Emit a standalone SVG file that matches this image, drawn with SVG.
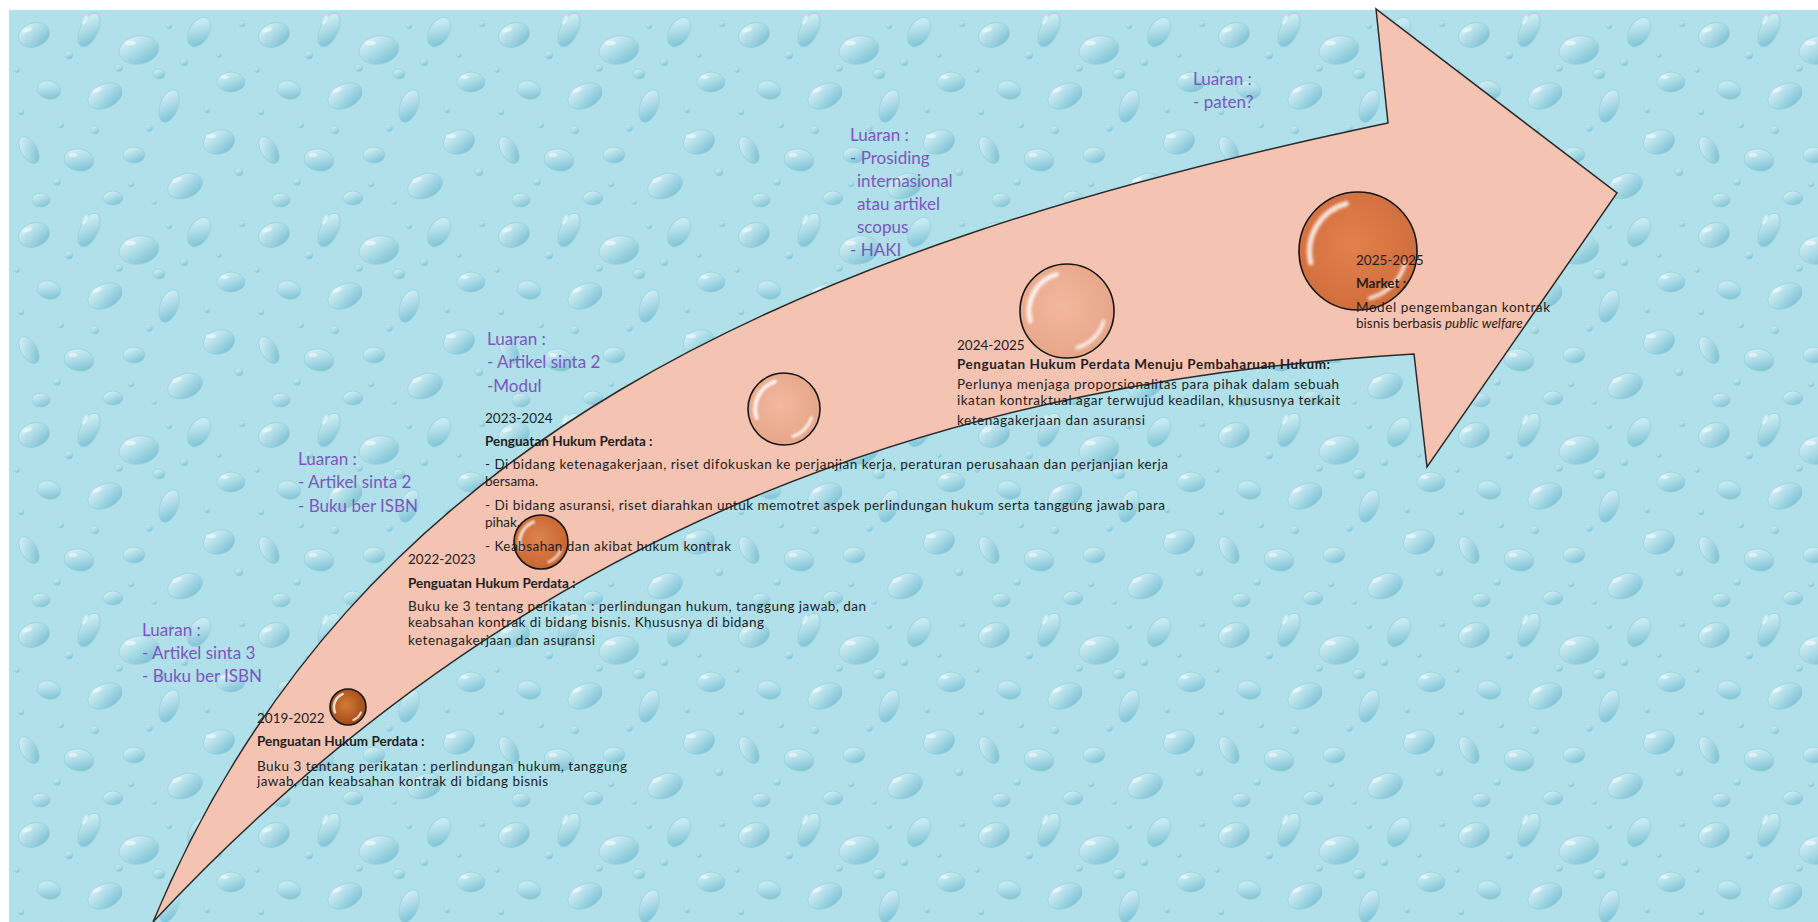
<svg xmlns="http://www.w3.org/2000/svg" width="1818" height="922" viewBox="0 0 1818 922">
<style>
.lu{font-family:"Lato","Open Sans",sans-serif;font-size:17px;fill:#7d55c0}
.t{font-family:"Lato","Open Sans",sans-serif;font-size:13.5px;fill:#1e1e1e}
.b{font-weight:bold}
.ring{stroke:#151515;stroke-width:1.6;vector-effect:non-scaling-stroke}
.hl{fill:none;stroke:#ffffff;stroke-linecap:round;filter:url(#soft)}
.drop{fill:url(#dg);stroke:#94cedc;stroke-width:0.7}
.sd{fill:url(#dg);stroke:#94cedc;stroke-width:0.5}
.shine{fill:#ffffff;opacity:0.5}
</style>
<defs>
<filter id="soft" x="-0.5" y="-0.5" width="2" height="2"><feGaussianBlur stdDeviation="0.03"/></filter>
<linearGradient id="dg" x1="0.2" y1="0" x2="0.8" y2="1">
<stop offset="0" stop-color="#d9f2f7"/>
<stop offset="0.5" stop-color="#aadbe6"/>
<stop offset="1" stop-color="#78bfd3"/>
</linearGradient>
<pattern id="drops" x="9" y="10" width="240" height="200" patternUnits="userSpaceOnUse">
<rect width="240" height="200" fill="#b0e1ea"/>
<ellipse class="drop" cx="25" cy="25" rx="16" ry="12" transform="rotate(-20 25 25)"/>
<ellipse class="drop" cx="80" cy="20" rx="9" ry="18" transform="rotate(25 80 20)"/>
<ellipse class="drop" cx="130" cy="40" rx="20" ry="14" transform="rotate(-10 130 40)"/>
<ellipse class="drop" cx="190" cy="22" rx="10" ry="16" transform="rotate(30 190 22)"/>
<ellipse class="drop" cx="222" cy="72" rx="14" ry="10"/>
<ellipse class="drop" cx="40" cy="80" rx="12" ry="9" transform="rotate(15 40 80)"/>
<ellipse class="drop" cx="96" cy="86" rx="18" ry="12" transform="rotate(-25 96 86)"/>
<ellipse class="drop" cx="160" cy="96" rx="9" ry="17" transform="rotate(20 160 96)"/>
<ellipse class="drop" cx="210" cy="132" rx="16" ry="12" transform="rotate(-15 210 132)"/>
<ellipse class="drop" cx="20" cy="140" rx="8" ry="15" transform="rotate(-30 20 140)"/>
<ellipse class="drop" cx="70" cy="150" rx="15" ry="11" transform="rotate(10 70 150)"/>
<ellipse class="drop" cx="125" cy="145" rx="11" ry="8"/>
<ellipse class="drop" cx="176" cy="176" rx="18" ry="12" transform="rotate(-20 176 176)"/>
<ellipse class="drop" cx="104" cy="188" rx="10" ry="7"/>
<ellipse class="drop" cx="32" cy="190" rx="9" ry="7"/>
<ellipse class="drop" cx="150" cy="64" rx="6" ry="5"/>
<ellipse class="shine" cx="18" cy="20" rx="5" ry="2" transform="rotate(-20 18 20)"/>
<ellipse class="shine" cx="76" cy="10" rx="2" ry="5" transform="rotate(25 76 10)"/>
<ellipse class="shine" cx="121" cy="33" rx="6" ry="2.5"/>
<ellipse class="shine" cx="88" cy="80" rx="5" ry="2" transform="rotate(-25 88 80)"/>
<ellipse class="shine" cx="202" cy="126" rx="5" ry="2"/>
<ellipse class="shine" cx="168" cy="170" rx="5" ry="2" transform="rotate(-20 168 170)"/>
<ellipse class="shine" cx="64" cy="145" rx="4" ry="2"/>
<ellipse class="shine" cx="216" cy="67" rx="4" ry="1.8"/>
<circle class="sd" cx="60" cy="45" r="4"/>
<circle class="sd" cx="110" cy="58" r="3.5"/>
<circle class="sd" cx="175" cy="52" r="4"/>
<circle class="sd" cx="12" cy="102" r="3"/>
<circle class="sd" cx="140" cy="118" r="3.5"/>
<circle class="sd" cx="230" cy="162" r="4"/>
<circle class="sd" cx="52" cy="115" r="3"/>
<circle class="sd" cx="198" cy="100" r="3"/>
<circle class="sd" cx="86" cy="120" r="4"/>
<circle class="sd" cx="233" cy="14" r="3"/>
<circle class="sd" cx="160" cy="16" r="3"/>
<circle class="sd" cx="122" cy="174" r="3"/>
<circle class="sd" cx="48" cy="172" r="3.5"/>
<circle class="sd" cx="210" cy="45" r="2.5"/>
<circle class="sd" cx="8" cy="60" r="2.5"/>
<circle class="sd" cx="145" cy="192" r="2.5"/>
</pattern>
<radialGradient id="g1" cx="0.45" cy="0.45" r="0.6"><stop offset="0" stop-color="#d47b38"/><stop offset="1" stop-color="#9c4714"/></radialGradient>
<radialGradient id="g2" cx="0.45" cy="0.45" r="0.6"><stop offset="0" stop-color="#e0844f"/><stop offset="1" stop-color="#c5622c"/></radialGradient>
<radialGradient id="g3" cx="0.45" cy="0.45" r="0.6"><stop offset="0" stop-color="#f2b9a0"/><stop offset="1" stop-color="#e6a487"/></radialGradient>
<radialGradient id="g5" cx="0.45" cy="0.45" r="0.6"><stop offset="0" stop-color="#e2804e"/><stop offset="1" stop-color="#cf6c3b"/></radialGradient>
</defs>

<rect x="0" y="0" width="1818" height="922" fill="#ffffff"/>
<rect x="9" y="10" width="1809" height="912" fill="url(#drops)"/>

<g id="connectors">
<path id="timeline-arrow" d="M153,922 C353,442 788,249 1388,123 L1376,9 L1617,193 L1427,467 L1414,354 C964,381 533,515 153,922 Z" fill="#f5c3b2" stroke="#2a2a2a" stroke-width="1.5" stroke-linejoin="miter"/>
</g>

<g id="stage-2019-2022">
<g transform="translate(348,707) scale(18)">
<circle r="1" fill="url(#g1)" class="ring"/>
<path class="hl" d="M-0.72,0.3 A0.78 0.78 0 0 1 -0.3,-0.72" stroke-width="0.14" opacity="0.8"/>
<path class="hl" d="M0.72,0.3 A0.78 0.78 0 0 1 0.3,0.72" stroke-width="0.12" opacity="0.75"/>
</g>
<text class="t" x="257" y="723">2019-2022</text>
<text class="t b" x="257" y="746">Penguatan Hukum Perdata :</text>
<text class="t" x="257" y="771" textLength="370">Buku 3 tentang perikatan :  perlindungan hukum, tanggung</text>
<text class="t" x="257" y="786" textLength="291">jawab, dan keabsahan kontrak di bidang bisnis</text>
</g>

<g id="stage-2022-2023">
<g transform="translate(541,542) scale(27)">
<circle r="1" fill="url(#g2)" class="ring"/>
<path class="hl" d="M-0.74,0.28 A0.8 0.8 0 0 1 -0.28,-0.74" stroke-width="0.12" opacity="0.8"/>
<path class="hl" d="M0.74,0.28 A0.8 0.8 0 0 1 0.28,0.74" stroke-width="0.1" opacity="0.75"/>
</g>
<text class="t" x="408" y="564">2022-2023</text>
<text class="t b" x="408" y="588">Penguatan Hukum Perdata :</text>
<text class="t" x="408" y="611" textLength="458">Buku ke 3 tentang perikatan : perlindungan hukum, tanggung jawab, dan</text>
<text class="t" x="408" y="627" textLength="356">keabsahan kontrak di bidang bisnis. Khususnya di bidang</text>
<text class="t" x="408" y="645" textLength="187">ketenagakerjaan dan asuransi</text>
</g>

<g id="stage-2023-2024">
<g transform="translate(784,409) scale(36)">
<circle r="1" fill="url(#g3)" class="ring"/>
<path class="hl" d="M-0.76,0.25 A0.8 0.8 0 0 1 -0.25,-0.76" stroke-width="0.11" opacity="0.85"/>
<path class="hl" d="M0.76,0.25 A0.8 0.8 0 0 1 0.25,0.76" stroke-width="0.09" opacity="0.8"/>
</g>
<text class="t" x="485" y="423">2023-2024</text>
<text class="t b" x="485" y="446">Penguatan Hukum Perdata :</text>
<text class="t" x="485" y="469" textLength="683">- Di bidang ketenagakerjaan, riset difokuskan ke perjanjian kerja, peraturan perusahaan dan perjanjian kerja</text>
<text class="t" x="485" y="486">bersama.</text>
<text class="t" x="485" y="510" textLength="680">- Di bidang asuransi, riset diarahkan untuk memotret aspek perlindungan hukum serta tanggung jawab para</text>
<text class="t" x="485" y="527">pihak.</text>
<text class="t" x="485" y="551" textLength="246">- Keabsahan dan akibat hukum kontrak</text>
</g>

<g id="stage-2024-2025">
<g transform="translate(1067,311) scale(47)">
<circle r="1" fill="url(#g3)" class="ring"/>
<path class="hl" d="M-0.78,0.22 A0.82 0.82 0 0 1 -0.22,-0.78" stroke-width="0.1" opacity="0.85"/>
<path class="hl" d="M0.78,0.22 A0.82 0.82 0 0 1 0.22,0.78" stroke-width="0.08" opacity="0.8"/>
</g>
<text class="t" x="957" y="350">2024-2025</text>
<text class="t b" x="957" y="369" textLength="373">Penguatan Hukum Perdata Menuju Pembaharuan Hukum:</text>
<text class="t" x="957" y="389" textLength="382">Perlunya menjaga proporsionalitas para pihak dalam sebuah</text>
<text class="t" x="957" y="405" textLength="383">ikatan kontraktual agar terwujud keadilan, khususnya terkait</text>
<text class="t" x="957" y="425" textLength="188">ketenagakerjaan dan asuransi</text>
</g>

<g id="stage-2025-2025">
<g transform="translate(1358,251) scale(59)">
<circle r="1" fill="url(#g5)" class="ring"/>
<path class="hl" d="M-0.8,0.2 A0.84 0.84 0 0 1 -0.2,-0.8" stroke-width="0.09" opacity="0.8"/>
<path class="hl" d="M0.8,0.2 A0.84 0.84 0 0 1 0.2,0.8" stroke-width="0.07" opacity="0.75"/>
</g>
<text class="t" x="1356" y="265">2025-2025</text>
<text class="t b" x="1356" y="288">Market :</text>
<text class="t" x="1356" y="312" textLength="194">Model pengembangan kontrak</text>
<text class="t" x="1356" y="328">bisnis berbasis <tspan font-style="italic">public welfare</tspan></text>
</g>

<g id="luaran-1">
<text class="lu" x="142" y="636">Luaran :</text>
<text class="lu" x="142" y="659">- Artikel sinta 3</text>
<text class="lu" x="142" y="682">- Buku ber ISBN</text>
</g>
<g id="luaran-2">
<text class="lu" x="298" y="465">Luaran :</text>
<text class="lu" x="298" y="488">- Artikel sinta 2</text>
<text class="lu" x="298" y="512">- Buku ber ISBN</text>
</g>
<g id="luaran-3">
<text class="lu" x="487" y="345">Luaran :</text>
<text class="lu" x="487" y="368">- Artikel sinta 2</text>
<text class="lu" x="487" y="392">-Modul</text>
</g>
<g id="luaran-4">
<text class="lu" x="850" y="141">Luaran :</text>
<text class="lu" x="850" y="164">- Prosiding</text>
<text class="lu" x="857" y="187">internasional</text>
<text class="lu" x="857" y="210">atau artikel</text>
<text class="lu" x="857" y="233">scopus</text>
<text class="lu" x="850" y="256">- HAKI</text>
</g>
<g id="luaran-5">
<text class="lu" x="1193" y="85">Luaran :</text>
<text class="lu" x="1193" y="108">- paten?</text>
</g>
</svg>
